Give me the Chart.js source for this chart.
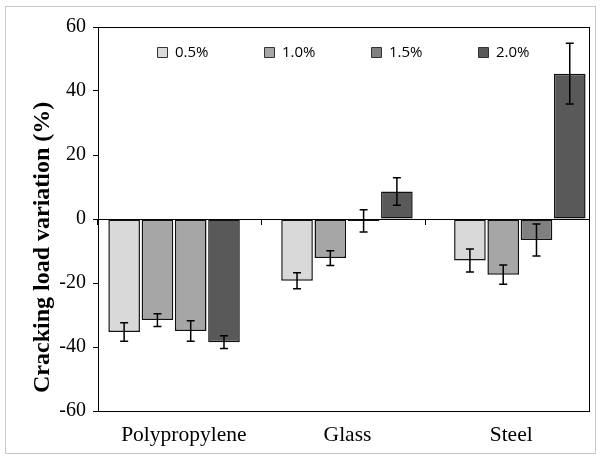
<!DOCTYPE html>
<html>
<head>
<meta charset="utf-8">
<script src="https://cdn.jsdelivr.net/npm/chart.js@4.4.0/dist/chart.umd.min.js"></script>
<style>
  html, body { margin: 0; padding: 0; background: #fff; }
  #wrap { position: relative; width: 601px; height: 459px; }
</style>
</head>
<body>
<div id="wrap"><canvas id="crackChart"></canvas></div>
<script>
var categories = ["Polypropylene", "Glass", "Steel"];
var seriesNames = ["0.5%", "1.0%", "1.5%", "2.0%"];

// mean variation per fibre type
var values05 = [-35.3, -19.3, -13.0];
var values10 = [-31.6, -12.2, -17.4];
var values15 = [-35.0, -0.6, -6.6];
var values20 = [-38.5, 8.6, 45.4];

// +/- error
var errors05 = [2.9, 2.5, 3.6];
var errors10 = [2.0, 2.3, 3.0];
var errors15 = [3.2, 3.5, 5.0];
var errors20 = [2.0, 4.3, 9.5];

var yTicks = [-60, -40, -20, 0, 20, 40, 60];

var fills = ["#d9d9d9", "#a6a6a6", "#808080", "#595959"];
// the polypropylene 1.5% bar is the lighter grey in the original
var fills15 = ["#a6a6a6", "#808080", "#808080"];

var serif = "'Liberation Serif', 'Times New Roman', serif";

//error bars drawn from the value scale
var errorBars = {
  id: "errorBars",
  afterDatasetsDraw: function(chart) {
    var ctx = chart.ctx;
    var yScale = chart.scales.y;
    ctx.save();
    ctx.strokeStyle = "#000";
    ctx.lineWidth = 1.5;
    chart.data.datasets.forEach(function(ds, i) {
      var meta = chart.getDatasetMeta(i);
      meta.data.forEach(function(bar, j) {
        var v = ds.data[j].y;
        var e = ds.errors[j];
        var top = yScale.getPixelForValue(v + e);
        var bot = yScale.getPixelForValue(v - e);
        var x = bar.x;
        ctx.beginPath();
        ctx.moveTo(x, top);
        ctx.lineTo(x, bot);
        ctx.moveTo(x - 4, top);
        ctx.lineTo(x + 4, top);
        ctx.moveTo(x - 4, bot);
        ctx.lineTo(x + 4, bot);
        ctx.stroke();
      });
    });
    ctx.restore();
  }
};

//outer frame + plot box
var frame = {
  id: "frame",
  beforeDraw: function(chart) {
    var ctx = chart.ctx;
    ctx.save();
    ctx.fillStyle = "#fff";
    ctx.fillRect(0, 0, chart.width, chart.height);
    ctx.strokeStyle = "#c8c8c8";
    ctx.lineWidth = 1;
    ctx.strokeRect(5.5, 6.5, 590, 447);
    ctx.restore();
  },
  beforeDatasetsDraw: function(chart) {
    var ctx = chart.ctx;
    var a = chart.chartArea;
    ctx.save();
    ctx.strokeStyle = "#000";
    ctx.lineWidth = 1;
    ctx.strokeRect(Math.round(a.left) + 0.5, Math.round(a.top) + 0.5,
      Math.round(a.right - a.left), Math.round(a.bottom - a.top));
    ctx.restore();
  }
};

//legend sits inside the plot area, so it takes no height
var legendInside = {
  id: "legendInside",
  beforeUpdate: function(chart) {
    var lg = chart.legend;
    if (lg && !lg._inside) {
      var fit = lg.fit;
      lg.fit = function() {
        fit.call(this);
        this.height = 0;
      };
      lg._inside = true;
    }
  },
  beforeDraw: function(chart) {
    var lg = chart.legend;
    if (!lg) return;
    var pad = lg.options.labels.padding;
    lg.top = chart.chartArea.top + 18 - pad;
    lg.bottom = lg.top + pad + 30;
  }
};

var valueSets = [values05, values10, values15, values20];
var errorSets = [errors05, errors10, errors15, errors20];

var datasets = seriesNames.map(function(name, i) {
  return {
    label: name,
    xAxisID: "xb",
    data: valueSets[i].map(function(v, j) { return { x: j, y: v }; }),
    errors: errorSets[i],
    backgroundColor: i === 2 ? fills15 : fills[i],
    borderColor: "#111",
    borderWidth: 1.5,
    borderSkipped: false,
    categoryPercentage: 0.77,
    barPercentage: 0.95
  };
});

var canvas = document.getElementById("crackChart").getContext("2d");
var crackChart = new Chart(canvas, {
  type: "bar",
  data: {
    labels: categories,
    datasets: datasets
  },
  plugins: [frame, legendInside, errorBars],
  options: {
    responsive: true,
    maintainAspectRatio: false,
    animation: false,
    devicePixelRatio: 1,
    layout: {
      padding: { left: 0, right: 12, top: 27, bottom: 0 }
    },
    plugins: {
      tooltip: { enabled: false },
      legend: {
        position: "top",
        fullSize: false,
        labels: {
          boxWidth: 10,
          boxHeight: 10,
          padding: 56,
          color: "#000",
          font: { family: "'Open Sans', sans-serif", size: 15 },
          generateLabels: function(chart) {
            var items = Chart.defaults.plugins.legend.labels.generateLabels(chart);
            items.forEach(function(it) {
              it.fillStyle = fills[it.datasetIndex];
              it.strokeStyle = "#333";
              it.lineWidth = 1;
            });
            return items;
          }
        }
      }
    },
    scales: {
      // bar groups sit a little off the label slots in the original
      xb: {
        type: "linear",
        display: false,
        offset: false,
        bounds: "data",
        grid: { offset: false },
        min: -0.44,
        max: 2.4,
        afterBuildTicks: function(scale) {
          scale.ticks = categories.map(function(c, j) { return { value: j }; });
        }
      },
      x: {
        type: "category",
        position: "bottom",
        offset: true,
        grid: { display: false, drawTicks: false },
        border: { display: true, color: "#000" },
        ticks: {
          color: "#000",
          padding: 11,
          labelOffset: 4,
          maxRotation: 0,
          font: { family: serif, size: 21.5 }
        },
        afterFit: function(scale) { scale.height = 48; }
      },
      x0: {
        type: "category",
        position: { y: 0 },
        offset: true,
        grid: {
          offset: true,
          drawOnChartArea: false,
          drawTicks: true,
          tickLength: 5,
          color: "#000"
        },
        border: { display: true, color: "#000", width: 1 },
        ticks: { display: false }
      },
      y: {
        min: -60,
        max: 60,
        afterBuildTicks: function(scale) {
          scale.ticks = yTicks.map(function(v) { return { value: v }; });
        },
        grid: {
          drawOnChartArea: false,
          drawTicks: true,
          tickLength: 5,
          color: "#000"
        },
        border: { display: true, color: "#000" },
        ticks: {
          color: "#000",
          padding: 7,
          font: { family: serif, size: 20 }
        },
        title: {
          display: true,
          align: "start",
          text: "   Cracking load variation (%)",
          color: "#000",
          padding: { top: 28, bottom: 0 },
          font: { family: serif, size: 24, weight: "bold" }
        },
        afterFit: function(scale) { scale.width = 98; }
      }
    }
  }
});
</script>
</body>
</html>
